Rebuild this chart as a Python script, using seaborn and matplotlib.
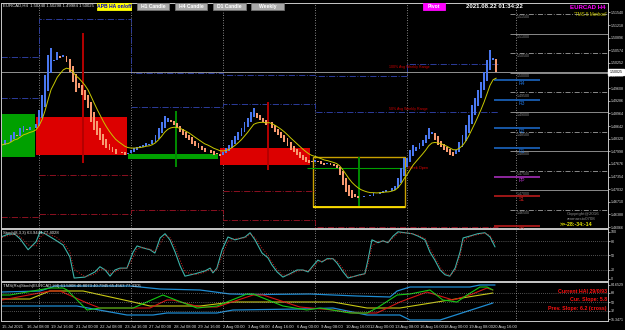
import numpy as np
import pandas as pd
import matplotlib
matplotlib.use("Agg")
import matplotlib.pyplot as plt
from matplotlib.patches import Rectangle
import seaborn as sns

# Heiken Ashi close per H4 bar, 15 Jul 00:00 (bar 0) .. 20 Aug 20:00 (bar 161)
ha_close = [
    1.4816, 1.4829, 1.4824, 1.4841, 1.4849, 1.4839, 1.4859, 1.4864, 1.4854, 1.4862, 1.4859, 1.4870,
    1.4905, 1.4943, 1.4994, 1.5045, 1.5063, 1.5033, 1.5053, 1.5038, 1.5045, 1.5028, 1.5002, 1.4977,
    1.4951, 1.4961, 1.4943, 1.4931, 1.4910, 1.4875, 1.4854, 1.4841, 1.4829, 1.4816, 1.4808, 1.4803,
    1.4798, 1.4793, 1.4798, 1.4796, 1.4790, 1.4796,
    1.4803, 1.4808, 1.4811, 1.4813, 1.4816, 1.4821, 1.4818, 1.4829, 1.4841, 1.4859, 1.4875, 1.4890,
    1.4885, 1.4875, 1.4867, 1.4859, 1.4849, 1.4841, 1.4834, 1.4829, 1.4818, 1.4813, 1.4808, 1.4803,
    1.4798, 1.4803, 1.4796, 1.4790, 1.4793, 1.4788,
    1.4798, 1.4808, 1.4816, 1.4829, 1.4839, 1.4849, 1.4859, 1.4875, 1.4885, 1.4900, 1.4910, 1.4885,
    1.4880, 1.4875, 1.4867, 1.4875, 1.4859, 1.4849, 1.4841, 1.4834, 1.4824, 1.4813, 1.4803, 1.4798,
    1.4790, 1.4783, 1.4778, 1.4773, 1.4770, 1.4773,
    1.4778, 1.4773, 1.4768, 1.4765, 1.4770, 1.4765, 1.4762, 1.4757, 1.4739, 1.4714, 1.4696, 1.4686,
    1.4681, 1.4683, 1.4681, 1.4683, 1.4686, 1.4686, 1.4688, 1.4694, 1.4691, 1.4696, 1.4698, 1.4701,
    1.4698, 1.4706, 1.4711, 1.4732, 1.4757, 1.4783,
    1.4783, 1.4803, 1.4816, 1.4811, 1.4821, 1.4829, 1.4841, 1.4859, 1.4849, 1.4829, 1.4816, 1.4811,
    1.4803, 1.4798, 1.4790, 1.4788, 1.4803, 1.4824, 1.4841, 1.4867, 1.4892, 1.4918, 1.4936, 1.4956,
    1.4977, 1.5002, 1.5033, 1.5058, 1.5038, 1.5002,
]

x_labels = ["15 Jul 2021", "16 Jul 08:00", "19 Jul 16:00", "21 Jul 00:00", "22 Jul 08:00",
            "23 Jul 16:00", "27 Jul 00:00", "28 Jul 08:00", "29 Jul 16:00", "2 Aug 00:00",
            "3 Aug 08:00", "4 Aug 16:00", "6 Aug 00:00", "9 Aug 08:00", "10 Aug 16:00",
            "12 Aug 00:00", "13 Aug 08:00", "16 Aug 16:00", "18 Aug 00:00", "19 Aug 08:00",
            "20 Aug 16:00"]
price_ticks = [1.51540, 1.51218, 1.50896, 1.50574, 1.50252, 1.49930, 1.49608, 1.49286, 1.48964,
               1.48642, 1.48320, 1.47998, 1.47676, 1.47354, 1.47032, 1.46710, 1.46388, 1.46066]
week_sep = [12, 42, 72, 102, 132, 167.5]

# weekly range levels (one value per week)
week_edges = [-0.3, 12, 42, 72, 102, 132, 161.5]
range_100 = [1.50404, 1.51372, 1.49996, 1.49945, 1.49919, 1.50225]
range_50 = [1.49358, np.nan, 1.49128, 1.49205, 1.49001, 1.49001]
range_low_a = [np.nan, 1.47394, np.nan, 1.46987, np.nan, np.nan]
range_low_b = [1.46324, 1.46400, 1.46502, 1.46247, 1.46069, 1.46069]

# daily HA zones: start bar, end bar, low, high
zone_start = [-0.3, 11.1, 41.0, 71.0]
zone_end = [10.75, 40.7, 70.4, 100.3]
zone_low = [1.47854, 1.47905, 1.47803, 1.47650]
zone_high = [1.48950, 1.48874, 1.47930, 1.48083]
week_box = (101.3, 131.3, 1.46579, 1.47854)
week_open = 1.47573
spike_bar = [26.4, 56.7, 86.6, 116.3]
spike_low = [1.47701, 1.47600, 1.47522, 1.46604]
spike_high = [1.51016, 1.49030, 1.49256, 1.47853]

pivot_names = ["R4", "R3", "R2", "R1", "PP", "S1", "S2"]
pivot_levels = [1.49817, 1.49307, 1.48593, 1.48083, 1.47344, 1.46859, 1.46094]
round_levels = [1.515, 1.510, 1.505, 1.500, 1.495, 1.490, 1.485, 1.480, 1.475, 1.470, 1.465]

stoch_bar = [0, 2, 4.2, 5.9, 8.5, 11.1, 12.4, 14, 17.3, 19.9,
             22.1, 23.5, 27, 30.3, 31.9, 33.6, 35.2, 36.8, 38.4, 40.7,
             42.7, 44, 45.9, 48.2, 49.8, 51.5, 53.1, 54.7, 56.4, 58,
             59.6, 62.9, 66.1, 67.8, 68.7, 70, 71.7, 73.6, 75.9, 79.2,
             80.8, 82.4, 84.7, 86.6, 87.9, 89.6, 91.5, 93.8, 96.1, 98,
             99.7, 101.3, 102.9, 104.2, 105.9, 107.8, 109.1, 111.1, 112.7, 115,
             116.6, 118.2, 119.2, 120.5, 122.5, 124.1, 125.7, 127.4, 129, 131.3,
             133.6, 135.5, 137.8, 139.4, 141, 142.7, 144.3, 145.9, 147.6, 149.2,
             150.2, 152.4, 155, 157.3, 159, 160.6]
stoch_main = [90, 95, 95, 85, 62, 79, 100, 96, 83, 72,
              47, 2, 4, 15, 26, 19, 6, 19, 23, 23,
              57, 70, 66, 62, 55, 87, 96, 83, 57, 28,
              6, 11, 17, 23, 13, 23, 62, 89, 83, 89,
              98, 83, 55, 45, 30, 15, 4, 11, 19, 19,
              15, 28, 40, 36, 43, 43, 34, 15, 2, 6,
              9, 11, 40, 83, 77, 81, 77, 91, 100, 98,
              96, 91, 83, 57, 40, 19, 9, 6, 23, 57,
              87, 91, 96, 98, 89, 68]
stoch_signal = [88, 92, 95, 90, 72, 70, 88, 97, 90, 78,
                58, 20, 5, 10, 20, 21, 12, 15, 21, 23,
                45, 64, 67, 63, 58, 75, 92, 88, 68, 40,
                15, 9, 14, 20, 16, 20, 48, 80, 86, 87,
                95, 88, 65, 50, 36, 20, 8, 9, 16, 19,
                17, 23, 36, 38, 41, 43, 38, 22, 6, 5,
                8, 10, 30, 70, 80, 80, 78, 87, 97, 98,
                96, 93, 86, 65, 46, 25, 12, 7, 18, 48,
                80, 90, 94, 97, 92, 75]

bb_up_bar = [0, 12.4, 17.3, 41.7, 51.5, 64.5, 74.3, 84, 100.3, 115.6, 126.4, 128.7, 132.9, 152.4, 155.7, 160.6]
bb_up = [70, 72, 82, 82, 76, 74, 66, 65, 66, 62, 60, 72, 80, 80, 84, 84]
bb_lo_bar = [0, 24.4, 40.7, 49.2, 53.7, 70, 75.2, 97, 107.8, 118.9, 129.6, 132.9, 142.7, 159.9]
bb_lo = [42, 42, 24, 24, 28, 28, 34, 36, 38, 24, 24, 14, 14, 48]
mid_bar = [0, 9.1, 15.6, 26.4, 42.7, 48.2, 64.5, 75.2, 107.8, 118.9, 129.6, 159.9]
mid = [56, 56, 72, 72, 50, 42, 42, 50, 50, 38, 38, 68]
rsi_bar = [0, 2.6, 15.6, 19.9, 21.2, 27.7, 31.9, 42.7, 52.4, 63.5, 70, 79.8, 81.8, 91.5,
           99.3, 103.6, 113.4, 118.9, 122.1, 128.7, 132.9, 139.4, 143.6, 148.2, 151.5, 155.7, 158, 159.9]
rsi = [64, 64, 78, 78, 74, 34, 38, 38, 64, 38, 42, 66, 66, 42,
       34, 38, 28, 28, 38, 64, 66, 74, 54, 50, 64, 80, 80, 74]
sig_bar = [0, 15.6, 18.9, 27.7, 31.9, 48.2, 53.7, 55.7, 64.5, 70, 81.8, 85, 97, 107.8,
           114.3, 122.1, 129.6, 138.4, 146.9, 152.4, 158, 159.9]
sig = [54, 72, 72, 48, 38, 38, 54, 54, 40, 40, 64, 64, 40, 34, 28, 28, 50, 70, 54, 64, 78, 74]

sns.set_theme(style="dark", rc={
    "axes.facecolor": "black", "figure.facecolor": "black", "axes.edgecolor": "#c0c0c0",
    "xtick.color": "#e0e0e0", "ytick.color": "#e0e0e0", "text.color": "white",
    "axes.linewidth": 0.6,
})
plt.rcParams["font.family"] = ["Liberation Sans", "DejaVu Sans"]

W, H = 625, 330
fig = plt.figure(figsize=(6.25, 3.3), dpi=100)

TICK_FS = 2.6


def px_axes(x0, y0, x1, y1):
    return fig.add_axes([x0 / W, 1 - y1 / H, (x1 - x0) / W, (y1 - y0) / H])


def ftext(x, y, s, **kw):
    fig.text(x / W, 1 - y / H, s, **kw)


def button(x0, y0, x1, y1, label, fc, ec, tc):
    fig.add_artist(Rectangle((x0 / W, 1 - y1 / H), (x1 - x0) / W, (y1 - y0) / H,
                             transform=fig.transFigure, facecolor=fc, edgecolor=ec, lw=0.6))
    ftext((x0 + x1) / 2, (y0 + y1) / 2 + 0.3, label, ha="center", va="center",
          fontsize=3.6, weight="bold", color=tc)


ax = px_axes(1, 3, 608, 228)
ax2 = px_axes(1, 229, 608, 281)
ax3 = px_axes(1, 282, 608, 321)
xlim = (-0.33, 197.4)
for a in (ax, ax2, ax3):
    a.set_xlim(*xlim)
    a.set_facecolor("black")
    for s in a.spines.values():
        s.set_color("#c8c8c8")
        s.set_linewidth(0.7)
    for b in week_sep:
        a.axvline(b, color="#b0b0b0", lw=0.6, ls=(0, (1, 2)), zorder=1)

# ---------------- main price panel ----------------
close = np.array(ha_close)
bars = np.arange(len(close))
opn = np.empty_like(close)
opn[0] = close[0]
for i in range(1, len(close)):
    opn[i] = (opn[i - 1] + close[i - 1]) / 2
up = close >= opn

for s0, s1, lo, hi, c in zip(zone_start, zone_end, zone_low, zone_high,
                             ["#00a000", "#dc0000", "#00a000", "#dc0000"]):
    ax.add_patch(Rectangle((s0, lo), s1 - s0, hi - lo, facecolor=c, edgecolor="none", zorder=2))

wb0, wb1, wlo, whi = week_box
ax.add_patch(Rectangle((wb0, wlo), wb1 - wb0, whi - wlo, facecolor="none",
                       edgecolor="#c8a000", lw=1.0, zorder=2))
ax.hlines(wlo, wb0, wb1, color="#ffe000", lw=1.3, zorder=3)
ax.hlines(week_open, wb0 - 2, wb1, color="#00a000", lw=0.8, zorder=3)
ax.text(wb1 + 1, week_open, "Week Open", color="#e00000", fontsize=2.8, va="center")

ax.vlines(spike_bar, spike_low, spike_high,
          colors=["#b40000", "#008c00", "#b40000", "#008c00"], lw=1.4, zorder=3)

ax.plot(week_edges, range_100 + [range_100[-1]], drawstyle="steps-post",
        color="#2c3c9c", lw=0.7, ls="-.", zorder=2)
ax.plot(week_edges, range_50 + [range_50[-1]], drawstyle="steps-post",
        color="#2c3c9c", lw=0.7, ls="-.", zorder=2)
ax.plot(week_edges, range_low_a + [range_low_a[-1]], drawstyle="steps-post",
        color="#8c1020", lw=0.7, ls="-.", zorder=2)
ax.plot(week_edges, range_low_b + [range_low_b[-1]], drawstyle="steps-post",
        color="#8c1020", lw=0.7, ls="-.", zorder=2)
ax.text(126.2, range_100[-1] - 0.0009, "100% Avg Weekly Range", color="#d00000", fontsize=2.6)
ax.text(126.2, range_50[-1] + 0.0005, "50% Avg Weekly Range", color="#d00000", fontsize=2.6)

# round-number levels on the right
for k, lv in enumerate(round_levels):
    ax.hlines(lv, 165.5, xlim[1], color="#a0a0a0", lw=0.6,
              ls="-" if k % 2 else (0, (6, 2, 1, 2)), zorder=2)
    ax.text(167.7, lv - 0.0003, f"{lv:.5f}", color="#8c8c8c", fontsize=2.6, va="top")

piv_colors = ["#1e6ed2", "#1e6ed2", "#1e6ed2", "#1e6ed2", "#b432c8", "#c81e1e", "#c81e1e"]
for name, lv, c in zip(pivot_names, pivot_levels, piv_colors):
    ax.hlines(lv, 160.3, 175.3, color=c, lw=1.1, zorder=3)
    ax.text(169.4, lv - 0.0002, name, color=c, fontsize=3.6, va="top", ha="center")

ax.bar(bars, close - opn, bottom=opn, width=0.62,
       color=np.where(up, "#4a78f0", "#f89a70"), linewidth=0, zorder=4)
ema = pd.Series(close).ewm(span=9, adjust=False).mean()
sns.lineplot(x=bars, y=ema.values, ax=ax, color="#c8c800", lw=0.7, legend=False, zorder=5)

ax.axhline(close[-1], color="#a8a8a8", lw=0.6, zorder=2)
ax.set_ylim(1.46043, 1.51781)
ax.yaxis.tick_right()
ax.set_yticks(price_ticks)
ax.set_yticklabels([f"{p:.5f}" for p in price_ticks])
ax.tick_params(axis="y", labelsize=TICK_FS, length=1.5, pad=0.6, width=0.5)
ax.set_xticks([])
ax.set_xlabel("")
ax.set_ylabel("")
ax.text(1.003, close[-1], "1.50025", transform=ax.get_yaxis_transform(), fontsize=TICK_FS,
        color="black", va="center", ha="left",
        bbox=dict(facecolor="white", edgecolor="white", pad=0.4, boxstyle="square"))

# ---------------- stochastic panel ----------------
sns.lineplot(x=stoch_bar, y=stoch_main, ax=ax2, color="#3cb4aa", lw=0.8, legend=False)
sns.lineplot(x=stoch_bar, y=stoch_signal, ax=ax2, color="#c81e1e", lw=0.7, ls=":", legend=False)
for lv in (20, 50, 80):
    ax2.axhline(lv, color="#a0a0a0", lw=0.5, ls=(0, (1, 2)))
ax2.set_ylim(-4.3, 106)
ax2.yaxis.tick_right()
ax2.set_yticks([0, 20, 50, 80, 100])
ax2.set_yticklabels(["0", "20", "50", "80", "100"])
ax2.tick_params(axis="y", labelsize=TICK_FS, length=1.5, pad=0.6, width=0.5)
ax2.set_xticks([])
ax2.set_xlabel("")
ax2.set_ylabel("")

# ---------------- TMS rsi panel ----------------
sns.lineplot(x=bb_up_bar, y=bb_up, ax=ax3, color="#1e8cd2", lw=0.9, legend=False)
sns.lineplot(x=bb_lo_bar, y=bb_lo, ax=ax3, color="#1e8cd2", lw=0.9, legend=False)
sns.lineplot(x=mid_bar, y=mid, ax=ax3, color="#c8c814", lw=0.8, legend=False)
sns.lineplot(x=sig_bar, y=sig, ax=ax3, color="#d21414", lw=0.8, legend=False)
sns.lineplot(x=rsi_bar, y=rsi, ax=ax3, color="#14c814", lw=0.8, legend=False)
for lv in (32, 50, 68):
    ax3.axhline(lv, color="#a0a0a0", lw=0.5, ls=(0, (1, 2)))
ax3.set_ylim(12, 90)
ax3.yaxis.tick_right()
rsi_ticks = [15.3471, 32, 50, 68, 84.6529]
ax3.set_yticks(rsi_ticks)
ax3.set_yticklabels(["15.3471", "32", "50", "68", "84.6529"])
ax3.tick_params(axis="y", labelsize=TICK_FS, length=1.5, pad=0.6, width=0.5)
ax3.set_xticks(np.arange(0, 161, 8))
ax3.set_xticklabels(x_labels, ha="left")
ax3.tick_params(axis="x", labelsize=3.0, length=2, pad=1, width=0.5)
ax3.set_xlabel("")
ax3.set_ylabel("")
ax3.text(0.998, 0.72, "Current HAI 29/0/93", transform=ax3.transAxes, color="#ff1010",
         fontsize=3.8, weight="bold", ha="right")
ax3.text(0.998, 0.50, "Cur. Slope: 5.8", transform=ax3.transAxes, color="#ff1010",
         fontsize=3.8, weight="bold", ha="right")
ax3.text(0.998, 0.28, "Prev. Slope: 6.2 (cross)", transform=ax3.transAxes, color="#ff1010",
         fontsize=3.8, weight="bold", ha="right")

# ---------------- header texts and buttons ----------------
ftext(3, 5.5, "EURCAD,H4  1.50240 1.50298 1.49984 1.50025", fontsize=3.1, va="center", color="#e8e8e8")
button(97, 3, 131, 10, "APB HA on/off", "#ffff00", "#ffff00", "#0000c8")
button(137, 3, 169, 10, "H1 Candle", "#a8a8a8", "#707070", "white")
button(175, 3, 207, 10, "H4 Candle", "#a8a8a8", "#707070", "white")
button(213, 3, 246, 10, "D1 Candle", "#a8a8a8", "#707070", "white")
button(251, 3, 284, 10, "Weekly", "#a8a8a8", "#707070", "white")
button(423, 3, 445, 10, "Pivot", "#ff00ff", "#ff00ff", "white")
ftext(494, 6, "2021.08.22 01:34:22", fontsize=4.4, weight="bold", ha="center", va="center")
ftext(606, 7.5, "EURCAD H4", fontsize=4.4, weight="bold", ha="right", va="center", color="#ff00ff")
ftext(606, 15, "'TMS 5 Method'", fontsize=3.3, ha="right", va="center", color="#c8c800")
ftext(567, 213.5, "Copyright@2016", fontsize=3.2, va="center", color="#8c8c8c")
ftext(567, 219, "ammarstx0708", fontsize=3.2, va="center", color="#8c8c8c")
ftext(560, 225, ">>-28:-34:-14", fontsize=3.8, weight="bold", va="center", color="#e6e600")
ftext(3, 233, "Stoch(8,3,3) 63.9444 77.4028", fontsize=3.1, va="center", color="#e8e8e8")
ftext(3, 286, "TMS(Rsi)Stoch(EURCAD,H4) 61.5908 46.8073 40.7945 65.4563 77.4305",
      fontsize=3.1, va="center", color="#e8e8e8")

fig.savefig("out.png", dpi=100, facecolor="black")
